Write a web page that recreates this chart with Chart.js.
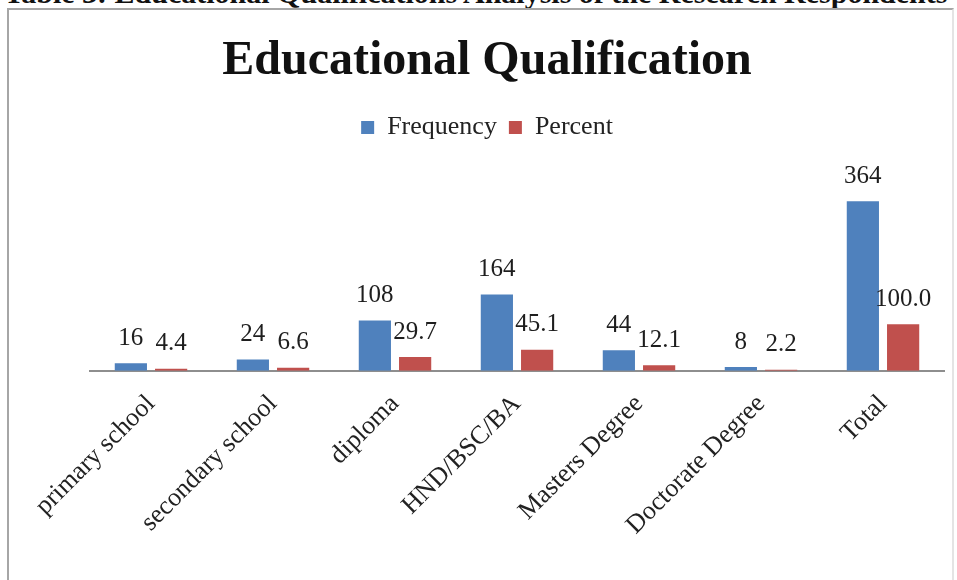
<!DOCTYPE html>
<html>
<head>
<meta charset="utf-8">
<script src="https://cdn.jsdelivr.net/npm/chart.js@4.4.1/dist/chart.umd.min.js"></script>
<style>
  html, body { margin: 0; padding: 0; background: #fff; overflow: hidden; }
  body { width: 957px; height: 580px; position: relative; font-family: "Liberation Serif", "DejaVu Serif", serif; }
  .caption {
    position: absolute; left: 4px; top: -22px; line-height: 30px;
    font-size: 30px; font-weight: bold; color: #111; white-space: nowrap;
  }
  .frame {
    position: absolute; left: 7px; top: 8px; width: 943px; height: 600px;
    border: 2px solid #a6a6a6; border-right-color: #e4e4e4;
  }
  .wrap { position: absolute; left: 0; top: 0; width: 957px; height: 580px; }
</style>
</head>
<body>
<div class="caption">Table 3: Educational Qualifications Analysis of the Research Respondents</div>
<div class="frame"></div>
<div class="wrap"><canvas id="eduChart"></canvas></div>
<script>
// values
const categories = ['primary school', 'secondary school', 'diploma', 'HND/BSC/BA', 'Masters Degree', 'Doctorate Degree', 'Total'];
const frequency = [16, 24, 108, 164, 44, 8, 364];
const percent = [4.4, 6.6, 29.7, 45.1, 12.1, 2.2, 100.0];
const seriesNames = ['Frequency', 'Percent'];
const decimals = [0, 1];

const SERIF = '"Liberation Serif", "DejaVu Serif", serif';

// draws the value above every bar, Excel style
const valueLabels = {
  id: 'valueLabels',
  afterDatasetsDraw(chart) {
    const ctx = chart.ctx;
    ctx.save();
    ctx.font = '25px ' + SERIF;
    ctx.fillStyle = '#1e1e1e';
    ctx.textAlign = 'center';
    ctx.textBaseline = 'middle';
    chart.data.datasets.forEach((ds, i) => {
      const meta = chart.getDatasetMeta(i);
      meta.data.forEach((bar, j) => {
        ctx.fillText(Number(ds.data[j]).toFixed(decimals[i]), bar.x, bar.y - 25);
      });
    });
    ctx.restore();
  }
};

new Chart(document.getElementById('eduChart').getContext('2d'), {
  type: 'bar',
  data: {
    labels: categories,
    datasets: [
      { label: seriesNames[0], data: frequency, backgroundColor: '#4f81bd' },
      { label: seriesNames[1], data: percent, backgroundColor: '#c0504d' }
    ]
  },
  options: {
    responsive: true,
    maintainAspectRatio: false,
    animation: false,
    categoryPercentage: 0.66,
    barPercentage: 0.8,
    layout: { padding: { top: 33, left: 30, right: 13, bottom: 29 } },
    plugins: {
      title: {
        display: true,
        text: 'Educational Qualification',
        color: '#111',
        font: { family: SERIF, size: 48, weight: 'bold', lineHeight: 1.2 },
        padding: { top: 0, bottom: 12 }
      },
      legend: {
        position: 'top',
        labels: {
          color: '#222',
          font: { family: SERIF, size: 26 },
          boxWidth: 13,
          boxHeight: 13,
          padding: 12
        }
      },
      tooltip: { enabled: false }
    },
    scales: {
      x: {
        grid: { display: false },
        border: { display: true, color: '#8e8e8e', width: 2 },
        ticks: {
          color: '#222',
          font: { family: SERIF, size: 26 },
          minRotation: 45,
          maxRotation: 45,
          padding: 10
        }
      },
      y: {
        // no visible axis in the original; kept as blank space left of the bars
        min: 0,
        max: 473,
        grid: { display: false },
        border: { display: false },
        ticks: { display: false },
        afterFit(scale) { scale.width = 60; }
      }
    }
  },
  plugins: [valueLabels]
});
</script>
</body>
</html>
